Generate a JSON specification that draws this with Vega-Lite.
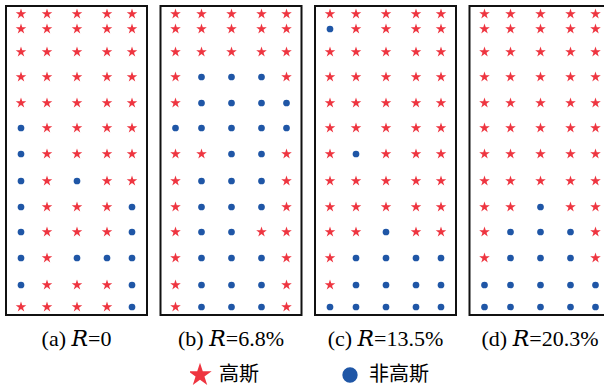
{
  "$schema": "https://vega.github.io/schema/vega-lite/v6.json",
  "padding": {"left": 5, "top": 5, "right": 0, "bottom": 0},
  "data": {"values": [
    {"case":"a","x":15,"y":8,"type":"高斯"},{"case":"a","x":41,"y":8,"type":"高斯"},{"case":"a","x":71,"y":8,"type":"高斯"},{"case":"a","x":101,"y":8,"type":"高斯"},{"case":"a","x":126,"y":8,"type":"高斯"},
    {"case":"a","x":15,"y":23,"type":"高斯"},{"case":"a","x":41,"y":23,"type":"高斯"},{"case":"a","x":71,"y":23,"type":"高斯"},{"case":"a","x":101,"y":23,"type":"高斯"},{"case":"a","x":126,"y":23,"type":"高斯"},
    {"case":"a","x":15,"y":46,"type":"高斯"},{"case":"a","x":41,"y":46,"type":"高斯"},{"case":"a","x":71,"y":46,"type":"高斯"},{"case":"a","x":101,"y":46,"type":"高斯"},{"case":"a","x":126,"y":46,"type":"高斯"},
    {"case":"a","x":15,"y":71,"type":"高斯"},{"case":"a","x":41,"y":71,"type":"高斯"},{"case":"a","x":71,"y":71,"type":"高斯"},{"case":"a","x":101,"y":71,"type":"高斯"},{"case":"a","x":126,"y":71,"type":"高斯"},
    {"case":"a","x":15,"y":97,"type":"高斯"},{"case":"a","x":41,"y":97,"type":"高斯"},{"case":"a","x":71,"y":97,"type":"高斯"},{"case":"a","x":101,"y":97,"type":"高斯"},{"case":"a","x":126,"y":97,"type":"高斯"},
    {"case":"a","x":15,"y":122,"type":"非高斯"},{"case":"a","x":41,"y":122,"type":"高斯"},{"case":"a","x":71,"y":122,"type":"高斯"},{"case":"a","x":101,"y":122,"type":"高斯"},{"case":"a","x":126,"y":122,"type":"高斯"},
    {"case":"a","x":15,"y":148,"type":"非高斯"},{"case":"a","x":41,"y":148,"type":"高斯"},{"case":"a","x":71,"y":148,"type":"高斯"},{"case":"a","x":101,"y":148,"type":"高斯"},{"case":"a","x":126,"y":148,"type":"高斯"},
    {"case":"a","x":15,"y":175,"type":"非高斯"},{"case":"a","x":41,"y":175,"type":"高斯"},{"case":"a","x":71,"y":175,"type":"非高斯"},{"case":"a","x":101,"y":175,"type":"高斯"},{"case":"a","x":126,"y":175,"type":"高斯"},
    {"case":"a","x":15,"y":201,"type":"非高斯"},{"case":"a","x":41,"y":201,"type":"高斯"},{"case":"a","x":71,"y":201,"type":"高斯"},{"case":"a","x":101,"y":201,"type":"高斯"},{"case":"a","x":126,"y":201,"type":"非高斯"},
    {"case":"a","x":15,"y":226,"type":"非高斯"},{"case":"a","x":41,"y":226,"type":"高斯"},{"case":"a","x":71,"y":226,"type":"高斯"},{"case":"a","x":101,"y":226,"type":"高斯"},{"case":"a","x":126,"y":226,"type":"非高斯"},
    {"case":"a","x":15,"y":252,"type":"非高斯"},{"case":"a","x":41,"y":252,"type":"高斯"},{"case":"a","x":71,"y":252,"type":"非高斯"},{"case":"a","x":101,"y":252,"type":"非高斯"},{"case":"a","x":126,"y":252,"type":"非高斯"},
    {"case":"a","x":15,"y":279,"type":"非高斯"},{"case":"a","x":41,"y":279,"type":"高斯"},{"case":"a","x":71,"y":279,"type":"高斯"},{"case":"a","x":101,"y":279,"type":"高斯"},{"case":"a","x":126,"y":279,"type":"非高斯"},
    {"case":"a","x":15,"y":301,"type":"高斯"},{"case":"a","x":41,"y":301,"type":"高斯"},{"case":"a","x":71,"y":301,"type":"高斯"},{"case":"a","x":101,"y":301,"type":"高斯"},{"case":"a","x":126,"y":301,"type":"非高斯"},

    {"case":"b","x":15,"y":8,"type":"高斯"},{"case":"b","x":41,"y":8,"type":"高斯"},{"case":"b","x":71,"y":8,"type":"高斯"},{"case":"b","x":101,"y":8,"type":"高斯"},{"case":"b","x":126,"y":8,"type":"高斯"},
    {"case":"b","x":15,"y":23,"type":"高斯"},{"case":"b","x":41,"y":23,"type":"高斯"},{"case":"b","x":71,"y":23,"type":"高斯"},{"case":"b","x":101,"y":23,"type":"高斯"},{"case":"b","x":126,"y":23,"type":"高斯"},
    {"case":"b","x":15,"y":46,"type":"高斯"},{"case":"b","x":41,"y":46,"type":"高斯"},{"case":"b","x":71,"y":46,"type":"高斯"},{"case":"b","x":101,"y":46,"type":"高斯"},{"case":"b","x":126,"y":46,"type":"高斯"},
    {"case":"b","x":15,"y":71,"type":"高斯"},{"case":"b","x":41,"y":71,"type":"非高斯"},{"case":"b","x":71,"y":71,"type":"非高斯"},{"case":"b","x":101,"y":71,"type":"非高斯"},{"case":"b","x":126,"y":71,"type":"高斯"},
    {"case":"b","x":15,"y":97,"type":"高斯"},{"case":"b","x":41,"y":97,"type":"非高斯"},{"case":"b","x":71,"y":97,"type":"非高斯"},{"case":"b","x":101,"y":97,"type":"非高斯"},{"case":"b","x":126,"y":97,"type":"非高斯"},
    {"case":"b","x":15,"y":122,"type":"非高斯"},{"case":"b","x":41,"y":122,"type":"非高斯"},{"case":"b","x":71,"y":122,"type":"非高斯"},{"case":"b","x":101,"y":122,"type":"非高斯"},{"case":"b","x":126,"y":122,"type":"非高斯"},
    {"case":"b","x":15,"y":148,"type":"高斯"},{"case":"b","x":41,"y":148,"type":"高斯"},{"case":"b","x":71,"y":148,"type":"非高斯"},{"case":"b","x":101,"y":148,"type":"非高斯"},{"case":"b","x":126,"y":148,"type":"高斯"},
    {"case":"b","x":15,"y":175,"type":"高斯"},{"case":"b","x":41,"y":175,"type":"非高斯"},{"case":"b","x":71,"y":175,"type":"非高斯"},{"case":"b","x":101,"y":175,"type":"非高斯"},{"case":"b","x":126,"y":175,"type":"高斯"},
    {"case":"b","x":15,"y":201,"type":"高斯"},{"case":"b","x":41,"y":201,"type":"非高斯"},{"case":"b","x":71,"y":201,"type":"非高斯"},{"case":"b","x":101,"y":201,"type":"非高斯"},{"case":"b","x":126,"y":201,"type":"高斯"},
    {"case":"b","x":15,"y":226,"type":"高斯"},{"case":"b","x":41,"y":226,"type":"非高斯"},{"case":"b","x":71,"y":226,"type":"非高斯"},{"case":"b","x":101,"y":226,"type":"高斯"},{"case":"b","x":126,"y":226,"type":"高斯"},
    {"case":"b","x":15,"y":252,"type":"高斯"},{"case":"b","x":41,"y":252,"type":"非高斯"},{"case":"b","x":71,"y":252,"type":"非高斯"},{"case":"b","x":101,"y":252,"type":"非高斯"},{"case":"b","x":126,"y":252,"type":"高斯"},
    {"case":"b","x":15,"y":279,"type":"高斯"},{"case":"b","x":41,"y":279,"type":"非高斯"},{"case":"b","x":71,"y":279,"type":"非高斯"},{"case":"b","x":101,"y":279,"type":"非高斯"},{"case":"b","x":126,"y":279,"type":"高斯"},
    {"case":"b","x":15,"y":301,"type":"高斯"},{"case":"b","x":41,"y":301,"type":"非高斯"},{"case":"b","x":71,"y":301,"type":"非高斯"},{"case":"b","x":101,"y":301,"type":"非高斯"},{"case":"b","x":126,"y":301,"type":"高斯"},

    {"case":"c","x":15,"y":8,"type":"高斯"},{"case":"c","x":41,"y":8,"type":"高斯"},{"case":"c","x":71,"y":8,"type":"高斯"},{"case":"c","x":101,"y":8,"type":"高斯"},{"case":"c","x":126,"y":8,"type":"高斯"},
    {"case":"c","x":15,"y":23,"type":"非高斯"},{"case":"c","x":41,"y":23,"type":"高斯"},{"case":"c","x":71,"y":23,"type":"高斯"},{"case":"c","x":101,"y":23,"type":"高斯"},{"case":"c","x":126,"y":23,"type":"高斯"},
    {"case":"c","x":15,"y":46,"type":"高斯"},{"case":"c","x":41,"y":46,"type":"高斯"},{"case":"c","x":71,"y":46,"type":"高斯"},{"case":"c","x":101,"y":46,"type":"高斯"},{"case":"c","x":126,"y":46,"type":"高斯"},
    {"case":"c","x":15,"y":71,"type":"高斯"},{"case":"c","x":41,"y":71,"type":"高斯"},{"case":"c","x":71,"y":71,"type":"高斯"},{"case":"c","x":101,"y":71,"type":"高斯"},{"case":"c","x":126,"y":71,"type":"高斯"},
    {"case":"c","x":15,"y":97,"type":"高斯"},{"case":"c","x":41,"y":97,"type":"高斯"},{"case":"c","x":71,"y":97,"type":"高斯"},{"case":"c","x":101,"y":97,"type":"高斯"},{"case":"c","x":126,"y":97,"type":"高斯"},
    {"case":"c","x":15,"y":122,"type":"高斯"},{"case":"c","x":41,"y":122,"type":"高斯"},{"case":"c","x":71,"y":122,"type":"高斯"},{"case":"c","x":101,"y":122,"type":"高斯"},{"case":"c","x":126,"y":122,"type":"高斯"},
    {"case":"c","x":15,"y":148,"type":"高斯"},{"case":"c","x":41,"y":148,"type":"非高斯"},{"case":"c","x":71,"y":148,"type":"高斯"},{"case":"c","x":101,"y":148,"type":"高斯"},{"case":"c","x":126,"y":148,"type":"高斯"},
    {"case":"c","x":15,"y":175,"type":"高斯"},{"case":"c","x":41,"y":175,"type":"高斯"},{"case":"c","x":71,"y":175,"type":"高斯"},{"case":"c","x":101,"y":175,"type":"高斯"},{"case":"c","x":126,"y":175,"type":"高斯"},
    {"case":"c","x":15,"y":201,"type":"高斯"},{"case":"c","x":41,"y":201,"type":"高斯"},{"case":"c","x":71,"y":201,"type":"高斯"},{"case":"c","x":101,"y":201,"type":"高斯"},{"case":"c","x":126,"y":201,"type":"高斯"},
    {"case":"c","x":15,"y":226,"type":"高斯"},{"case":"c","x":41,"y":226,"type":"高斯"},{"case":"c","x":71,"y":226,"type":"非高斯"},{"case":"c","x":101,"y":226,"type":"高斯"},{"case":"c","x":126,"y":226,"type":"高斯"},
    {"case":"c","x":15,"y":252,"type":"高斯"},{"case":"c","x":41,"y":252,"type":"非高斯"},{"case":"c","x":71,"y":252,"type":"非高斯"},{"case":"c","x":101,"y":252,"type":"非高斯"},{"case":"c","x":126,"y":252,"type":"非高斯"},
    {"case":"c","x":15,"y":279,"type":"高斯"},{"case":"c","x":41,"y":279,"type":"非高斯"},{"case":"c","x":71,"y":279,"type":"非高斯"},{"case":"c","x":101,"y":279,"type":"非高斯"},{"case":"c","x":126,"y":279,"type":"非高斯"},
    {"case":"c","x":15,"y":301,"type":"非高斯"},{"case":"c","x":41,"y":301,"type":"非高斯"},{"case":"c","x":71,"y":301,"type":"非高斯"},{"case":"c","x":101,"y":301,"type":"非高斯"},{"case":"c","x":126,"y":301,"type":"非高斯"},

    {"case":"d","x":15,"y":8,"type":"高斯"},{"case":"d","x":41,"y":8,"type":"高斯"},{"case":"d","x":71,"y":8,"type":"高斯"},{"case":"d","x":101,"y":8,"type":"高斯"},{"case":"d","x":126,"y":8,"type":"高斯"},
    {"case":"d","x":15,"y":23,"type":"高斯"},{"case":"d","x":41,"y":23,"type":"高斯"},{"case":"d","x":71,"y":23,"type":"高斯"},{"case":"d","x":101,"y":23,"type":"高斯"},{"case":"d","x":126,"y":23,"type":"高斯"},
    {"case":"d","x":15,"y":46,"type":"高斯"},{"case":"d","x":41,"y":46,"type":"高斯"},{"case":"d","x":71,"y":46,"type":"高斯"},{"case":"d","x":101,"y":46,"type":"高斯"},{"case":"d","x":126,"y":46,"type":"高斯"},
    {"case":"d","x":15,"y":71,"type":"高斯"},{"case":"d","x":41,"y":71,"type":"高斯"},{"case":"d","x":71,"y":71,"type":"高斯"},{"case":"d","x":101,"y":71,"type":"高斯"},{"case":"d","x":126,"y":71,"type":"高斯"},
    {"case":"d","x":15,"y":97,"type":"高斯"},{"case":"d","x":41,"y":97,"type":"高斯"},{"case":"d","x":71,"y":97,"type":"高斯"},{"case":"d","x":101,"y":97,"type":"高斯"},{"case":"d","x":126,"y":97,"type":"高斯"},
    {"case":"d","x":15,"y":122,"type":"高斯"},{"case":"d","x":41,"y":122,"type":"高斯"},{"case":"d","x":71,"y":122,"type":"高斯"},{"case":"d","x":101,"y":122,"type":"高斯"},{"case":"d","x":126,"y":122,"type":"高斯"},
    {"case":"d","x":15,"y":148,"type":"高斯"},{"case":"d","x":41,"y":148,"type":"高斯"},{"case":"d","x":71,"y":148,"type":"高斯"},{"case":"d","x":101,"y":148,"type":"高斯"},{"case":"d","x":126,"y":148,"type":"高斯"},
    {"case":"d","x":15,"y":175,"type":"高斯"},{"case":"d","x":41,"y":175,"type":"高斯"},{"case":"d","x":71,"y":175,"type":"高斯"},{"case":"d","x":101,"y":175,"type":"高斯"},{"case":"d","x":126,"y":175,"type":"高斯"},
    {"case":"d","x":15,"y":201,"type":"高斯"},{"case":"d","x":41,"y":201,"type":"高斯"},{"case":"d","x":71,"y":201,"type":"非高斯"},{"case":"d","x":101,"y":201,"type":"高斯"},{"case":"d","x":126,"y":201,"type":"高斯"},
    {"case":"d","x":15,"y":226,"type":"高斯"},{"case":"d","x":41,"y":226,"type":"非高斯"},{"case":"d","x":71,"y":226,"type":"非高斯"},{"case":"d","x":101,"y":226,"type":"非高斯"},{"case":"d","x":126,"y":226,"type":"高斯"},
    {"case":"d","x":15,"y":252,"type":"高斯"},{"case":"d","x":41,"y":252,"type":"非高斯"},{"case":"d","x":71,"y":252,"type":"非高斯"},{"case":"d","x":101,"y":252,"type":"非高斯"},{"case":"d","x":126,"y":252,"type":"高斯"},
    {"case":"d","x":15,"y":279,"type":"非高斯"},{"case":"d","x":41,"y":279,"type":"非高斯"},{"case":"d","x":71,"y":279,"type":"非高斯"},{"case":"d","x":101,"y":279,"type":"非高斯"},{"case":"d","x":126,"y":279,"type":"非高斯"},
    {"case":"d","x":15,"y":301,"type":"非高斯"},{"case":"d","x":41,"y":301,"type":"非高斯"},{"case":"d","x":71,"y":301,"type":"非高斯"},{"case":"d","x":101,"y":301,"type":"非高斯"},{"case":"d","x":126,"y":301,"type":"非高斯"}
  ]},
  "facet": {
    "column": {
      "field": "case",
      "type": "nominal",
      "sort": ["a", "b", "c", "d"],
      "header": {
        "title": null,
        "labelOrient": "bottom",
        "labelExpr": "datum.value == 'a' ? '(a) 𝑅=0' : datum.value == 'b' ? '(b) 𝑅=6.8%' : datum.value == 'c' ? '(c) 𝑅=13.5%' : '(d) 𝑅=20.3%'",
        "labelFont": "Liberation Serif, DejaVu Serif",
        "labelFontSize": 22,
        "labelColor": "#000000",
        "labelBaseline": "alphabetic",
        "labelPadding": 30
      }
    }
  },
  "spacing": 11.5,
  "spec": {
    "width": 141,
    "height": 309,
    "mark": {"type": "point", "filled": true, "opacity": 1},
    "encoding": {
      "x": {"field": "x", "type": "quantitative", "scale": {"domain": [0, 141], "nice": false, "zero": false}, "axis": null},
      "y": {"field": "y", "type": "quantitative", "scale": {"domain": [0, 309], "nice": false, "reverse": true}, "axis": null},
      "shape": {
        "field": "type", "type": "nominal",
        "scale": {"domain": ["高斯", "非高斯"], "range": ["M0,-1.6L0.3592,-0.4944L1.5216,-0.4944L0.5813,0.1888L0.9408,1.2944L0,0.6112L-0.9408,1.2944L-0.5813,0.1888L-1.5216,-0.4944L-0.3592,-0.4944Z", "circle"]},
        "legend": {
          "title": null,
          "orient": "none",
          "direction": "horizontal",
          "legendX": 184,
          "legendY": 355,
          "labelFont": "Noto Sans CJK SC",
          "labelFontSize": 20,
          "labelColor": "#000000",
          "labelOffset": 9,
          "columnPadding": 81,
          "clipHeight": 28,
          "symbolStrokeWidth": 0,
          "symbolSize": 235
        }
      },
      "color": {
        "field": "type", "type": "nominal",
        "scale": {"domain": ["高斯", "非高斯"], "range": ["#ee3540", "#1f56a6"]}
      },
      "size": {
        "condition": {"test": "datum.type === '高斯'", "value": 48},
        "value": 45
      }
    }
  },
  "config": {
    "view": {"stroke": "#111111", "strokeWidth": 2},
    "font": "Liberation Serif"
  }
}
